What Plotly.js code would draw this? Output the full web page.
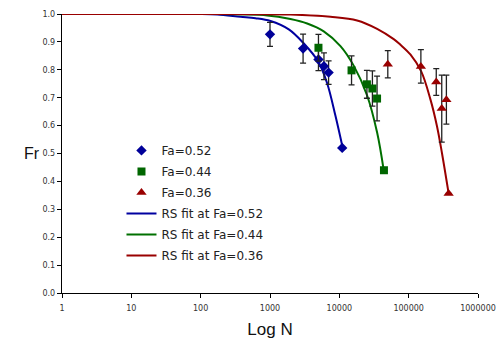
<!DOCTYPE html>
<html><head><meta charset="utf-8">
<script src="https://cdn.plot.ly/plotly-3.0.1.min.js"></script>
<style>html,body{margin:0;padding:0;background:#fff}#chart{width:499px;height:339px}</style>
</head><body><div id="chart"></div>
<script>
// Measured data (Fr vs N)
const n052 = [1000, 3000, 5000, 6000, 7000, 11000];
const fr052 = [0.927, 0.876, 0.837, 0.813, 0.79, 0.52];
const err052 = [0.043, 0.052, 0.04, 0.048, 0.042, 0];

const n044 = [5000, 15000, 25000, 30000, 35000, 44000];
const fr044 = [0.879, 0.798, 0.748, 0.733, 0.697, 0.44];
const err044 = [0.048, 0.052, 0.05, 0.063, 0.08, 0];

const n036 = [50000, 150000, 250000, 300000, 350000, 377000];
const fr036 = [0.82, 0.812, 0.756, 0.661, 0.693, 0.357];
const err036 = [0.049, 0.06, 0.048, 0.12, 0.088, 0];

// RS fit curves
const fitN052 = [1, 10, 100, 173, 376, 618, 1016, 1866, 3008, 4950, 6670, 8790, 11190];
const fitFr052 = [1, 1, 1, 0.998, 0.99, 0.985, 0.975, 0.945, 0.897, 0.83, 0.752, 0.635, 0.52];

const fitN044 = [1, 10, 100, 912, 1973, 3436, 5960, 10380, 16110, 25160, 35080, 43650];
const fitFr044 = [1, 1, 1, 0.995, 0.982, 0.966, 0.938, 0.885, 0.815, 0.708, 0.575, 0.44];

const fitN036 = [1, 10, 100, 1973, 7450, 18030, 35080, 60810, 75900, 105800, 151000, 205500, 256600, 302800, 377000];
const fitFr036 = [1, 1, 1, 0.998, 0.99, 0.977, 0.947, 0.91, 0.89, 0.855, 0.795, 0.695, 0.597, 0.5, 0.357];

const xTicks = [1, 10, 100, 1000, 10000, 100000, 1000000];
const xTickText = ['1', '10', '100', '1000', '10000', '100000', '1000000'];

const cBlue = '#000099', cGreen = '#006600', cRed = '#990000';

function fit(x, y, name, color, rank) {
  return {x: x, y: y, name: name, type: 'scatter', mode: 'lines', legendgroup: name,
    line: {color: color, width: 2, shape: 'spline', smoothing: 1}, legendrank: rank};
}
function pts(x, y, e, name, color, sym, size, rank) {
  return {x: x, y: y, name: name, type: 'scatter', mode: 'markers', legendgroup: name,
    marker: {color: color, symbol: sym, size: size},
    error_y: {type: 'data', array: e, visible: true, color: '#222', thickness: 1.3, width: 3},
    legendrank: rank};
}

const data = [
  fit(fitN052, fitFr052, 'RS fit at Fa=0.52', '#0000a0', 4),
  fit(fitN044, fitFr044, 'RS fit at Fa=0.44', '#007000', 5),
  fit(fitN036, fitFr036, 'RS fit at Fa=0.36', '#990000', 6),
  pts(n052, fr052, err052, 'Fa=0.52', cBlue, 'diamond', 8, 1),
  pts(n044, fr044, err044, 'Fa=0.44', cGreen, 'square', 8, 2),
  pts(n036, fr036, err036, 'Fa=0.36', cRed, 'triangle-up', 9, 3)
];

const layout = {
  width: 499, height: 339,
  margin: {l: 62, r: 21, t: 14, b: 46},
  paper_bgcolor: '#fff', plot_bgcolor: '#fff',
  font: {family: 'DejaVu Sans, Verdana, sans-serif', color: '#222'},
  showlegend: true,
  legend: {x: 0.143, y: 0.563, xanchor: 'left', yanchor: 'top', bgcolor: 'rgba(0,0,0,0)',
    font: {size: 12, family: 'DejaVu Sans, sans-serif', color: '#222'}, tracegroupgap: 2},
  xaxis: {type: 'log', range: [0, 6], tickvals: xTicks, ticktext: xTickText,
    showgrid: false, zeroline: false, showline: true, linecolor: '#000', linewidth: 1.2,
    ticks: 'outside', ticklen: 4, tickcolor: '#000', tickfont: {size: 8, color: '#333'},
    ticklabelstandoff: 3,
    title: {text: 'Log N', font: {size: 17, family: 'Liberation Sans, Arial, sans-serif', color: '#111'}, standoff: 11}},
  yaxis: {range: [0, 1], dtick: 0.1, tickformat: '.1f', showgrid: false, zeroline: false,
    showline: true, linecolor: '#000', linewidth: 1.2, ticks: 'outside', ticklen: 4,
    tickcolor: '#000', tickfont: {size: 8, color: '#333'}},
  annotations: [{text: 'Fr', xref: 'paper', yref: 'paper', x: -0.072, y: 0.5, xanchor: 'center',
    yanchor: 'middle', showarrow: false, font: {size: 16, family: 'Liberation Sans, Arial, sans-serif', color: '#111'}}]
};

Plotly.newPlot('chart', data, layout, {displayModeBar: false, staticPlot: true});
</script></body></html>
